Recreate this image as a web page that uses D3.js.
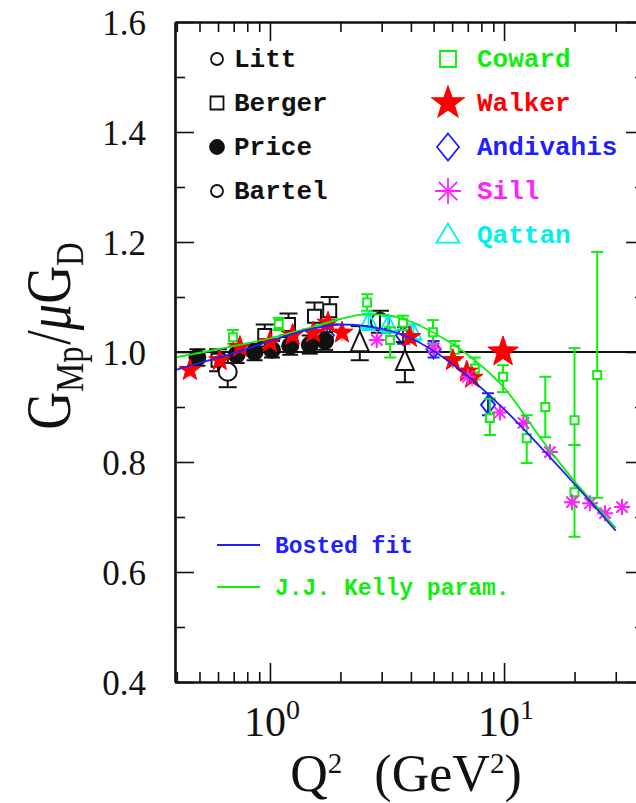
<!DOCTYPE html>
<html><head><meta charset="utf-8">
<script src="https://cdn.jsdelivr.net/npm/d3@7"></script>
<style>body{margin:0;background:#fff;} svg{display:block;}</style>
</head><body>
<svg id="c" width="636" height="803"></svg>
<script>
// ---------- data ----------
const xMajorTicks = [1, 10];
const xMinorTicks = [0.4,0.5,0.6,0.7,0.8,0.9,2,3,4,5,6,7,8,9,20,30,40];
const xTickLabels = [["10","0"],["10","1"]];
const yMajorTicks = [0.4,0.6,0.8,1.0,1.2,1.4,1.6];
const yMinorTicks = [0.5,0.7,0.9,1.1,1.3,1.5];
const yTickLabels = ["0.4","0.6","0.8","1.0","1.2","1.4","1.6"];

// [Q2, ratio, lower end of error bar, upper end of error bar]
const litt = [[2.95,1.055,1.035,1.075]];
const berger = [[0.6,0.985,0.965,1.005],[0.95,1.03,1.01,1.05],[1.2,1.05,1.03,1.07],[1.55,1.065,1.04,1.09],[1.8,1.075,1.05,1.1]];
const price = [[0.49,0.99,0.975,1.005],[0.72,0.995,0.98,1.01],[0.86,1.0,0.985,1.015],[1.02,1.004,0.99,1.02],[1.22,1.011,0.995,1.027],[1.48,1.013,0.997,1.03],[1.72,1.02,1.004,1.036]];
const bartel = [[0.66,0.964,0.936,0.99]];
const kirk = [[2.42,1.016,0.985,1.047],[3.77,0.982,0.945,1.018]];
const coward = [[0.695,1.027,1.015,1.04],[1.09,1.051,1.04,1.062],[2.6,1.09,1.075,1.105],[3.26,1.022,0.99,1.045],[3.7,1.053,1.04,1.066],[4.97,1.036,1.015,1.058],[6.16,1.004,0.985,1.02],[7.5,0.97,0.95,0.99],[8.7,0.88,0.849,0.915],[9.9,0.955,0.927,0.976],[12.5,0.843,0.798,0.885],[15,0.9,0.845,0.955],[20,0.876,0.831,1.007],[20,0.745,0.664,0.831],[25,0.958,0.735,1.182]];
const walker = [[0.455,0.967,0.955,0.98],[0.61,0.985,0.972,0.998],[0.744,1.009,0.997,1.021],[1.0,1.018,1.006,1.03],[1.25,1.031,1.019,1.043],[1.53,1.035,1.023,1.047],[1.77,1.053,1.04,1.066],[2.03,1.035,1.02,1.05],[3.96,1.027,1.012,1.042],[6.05,0.985,0.97,1.0],[6.93,0.964,0.95,0.978],[7.3,0.953,0.938,0.968]];
const walkerHighQ = [[9.9,1.0,1.0,1.0]];
const andivahis = [[1.75,1.03,1.015,1.045],[3.7,1.03,1.015,1.045],[5.0,1.005,0.99,1.02],[8.54,0.904,0.885,0.925]];
const sill = [[2.86,1.022,1.012,1.032],[5.0,1.007,0.997,1.017],[7.0,0.955,0.945,0.965],[9.6,0.89,0.88,0.9],[12.1,0.871,0.861,0.881],[15.7,0.818,0.808,0.828],[19.5,0.727,0.717,0.737],[23.3,0.725,0.715,0.735],[27,0.707,0.697,0.717],[31.9,0.718,0.708,0.728]];
const qattan = [[2.64,1.055,1.04,1.07],[3.2,1.05,1.035,1.065],[4.1,1.035,1.02,1.05]];

// curves [Q2, ratio]
const bostedFit = [[0.393,0.967],[0.5,0.98],[0.7,0.998],[1,1.02],[1.5,1.042],[2,1.05],[3,1.042],[4,1.025],[5,1.002],[7,0.956],[10,0.896],[15,0.818],[20,0.76],[25,0.714],[30,0.675]];
const kellyParam = [[0.393,0.99],[0.6,1.005],[1,1.025],[1.5,1.045],[2,1.06],[2.5,1.068],[3,1.068],[4,1.055],[5,1.035],[6,1.015],[7,0.995],[10,0.935],[15,0.832],[20,0.765],[25,0.718],[30,0.68]];

const legendLeft = ["Litt","Berger","Price","Bartel"];
const legendRight = ["Coward","Walker","Andivahis","Sill","Qattan"];
const curveLegend = ["Bosted fit","J.J. Kelly param."];

// ---------- drawing ----------
const svg = d3.select("#c");
const x = d3.scaleLog().domain([0.393, 40]).range([175, 645]);
const y = d3.scaleLinear().domain([0.4, 1.6]).range([682, 22]);
const X0 = 175, X1 = 645, Y0 = 682, Y1 = 22;

const GREEN = "#10ee10", RED = "#ff0000", BLUE = "#2020ff", MAG = "#ff22ff", CYAN = "#00f0f0", BLK = "#111";

// shape generators (paths centered at 0,0)
function circleP(r){return `M${r},0A${r},${r} 0 1,1 ${-r},0A${r},${r} 0 1,1 ${r},0Z`;}
function squareP(s){const h=s/2;return `M${-h},${-h}H${h}V${h}H${-h}Z`;}
function starP(R){let p="";const r=R*0.40;for(let i=0;i<10;i++){const a=-Math.PI/2+i*Math.PI/5;const rr=i%2?r:R;p+=(i?"L":"M")+(rr*Math.cos(a)).toFixed(2)+","+(rr*Math.sin(a)).toFixed(2);}return p+"Z";}
function diamondP(w,h){return `M0,${-h/2}L${w/2},0L0,${h/2}L${-w/2},0Z`;}
function triP(w,h){return `M0,${-h*0.6}L${w/2},${h*0.4}L${-w/2},${h*0.4}Z`;}
function astP(r){let p="";for(let i=0;i<4;i++){const a=i*Math.PI/4;const c=r*Math.cos(a),s=r*Math.sin(a);p+=`M${(-c).toFixed(2)},${(-s).toFixed(2)}L${c.toFixed(2)},${s.toFixed(2)}`;}return p;}

// horizontal reference line at 1.0
svg.append("line").attr("x1",X0).attr("x2",X1).attr("y1",y(1)).attr("y2",y(1))
  .attr("stroke","#111").attr("stroke-width",2);

function drawSet(data, opt){
  const g = svg.append("g");
  data.forEach(d=>{
    if (d[2]===d[3]) return;
    const cx = x(d[0]);
    g.append("line").attr("x1",cx).attr("x2",cx).attr("y1",y(d[2])).attr("y2",y(d[3]))
      .attr("stroke",opt.color).attr("stroke-width",opt.ew||2);
    [d[2],d[3]].forEach(v=>{
      g.append("line").attr("x1",cx-opt.cap).attr("x2",cx+opt.cap).attr("y1",y(v)).attr("y2",y(v))
        .attr("stroke",opt.color).attr("stroke-width",opt.ew||2);
    });
  });
  g.selectAll("path.m").data(data).join("path").attr("class","m")
    .attr("transform",d=>`translate(${x(d[0])},${y(d[1])})`)
    .attr("d",opt.path)
    .attr("fill",opt.fill||"none")
    .attr("stroke",opt.color)
    .attr("stroke-width",opt.sw||2);
}

drawSet(andivahis,{path:diamondP(14,18),color:BLUE,cap:6,sw:2});
drawSet(berger,{path:squareP(13),color:BLK,cap:9,fill:"#fff",sw:2});
drawSet(price,{path:circleP(8),color:BLK,cap:8,fill:BLK});
drawSet(bartel,{path:circleP(9),color:BLK,cap:9,fill:"#fff"});
drawSet(litt,{path:circleP(9),color:BLK,cap:9,fill:"none"});
drawSet(kirk,{path:triP(18,20),color:BLK,cap:9,fill:"#fff"});
drawSet(qattan,{path:triP(16,16),color:CYAN,cap:7,fill:"none"});
drawSet(coward,{path:squareP(8),color:GREEN,cap:6,fill:"#fff"});
drawSet(walker,{path:starP(11.5),color:RED,cap:0.01,fill:RED,sw:1,ew:1});
drawSet(walkerHighQ,{path:starP(16),color:RED,cap:0,fill:RED,sw:1});
drawSet(sill,{path:astP(8),color:MAG,cap:0.01,sw:2,ew:1});

// curves
const line = d3.line().x(d=>x(d[0])).y(d=>y(d[1])).curve(d3.curveMonotoneX);
svg.append("path").datum(kellyParam).attr("d",line).attr("fill","none").attr("stroke",GREEN).attr("stroke-width",1.8);
svg.append("path").datum(bostedFit).attr("d",line).attr("fill","none").attr("stroke",BLUE).attr("stroke-width",1.8);

// axes
function ax(gen, tr, vals, size){
  const a = svg.append("g").attr("transform",tr)
    .call(gen.tickValues(vals).tickSizeInner(size).tickSizeOuter(0).tickFormat(""));
  a.select(".domain").attr("stroke","#111").attr("stroke-width",2.2);
  a.selectAll(".tick line").attr("stroke","#111").attr("stroke-width",1.6);
}
ax(d3.axisBottom(x),`translate(0,${Y0})`,xMajorTicks,-19);
ax(d3.axisBottom(x),`translate(0,${Y0})`,xMinorTicks,-10);
ax(d3.axisTop(x),`translate(0,${Y1})`,xMajorTicks,-19);
ax(d3.axisTop(x),`translate(0,${Y1})`,xMinorTicks,-10);
ax(d3.axisLeft(y),`translate(${X0},0)`,yMajorTicks,-19);
ax(d3.axisLeft(y),`translate(${X0},0)`,yMinorTicks,-10);
ax(d3.axisRight(y),`translate(${X1},0)`,yMajorTicks,-19);
ax(d3.axisRight(y),`translate(${X1},0)`,yMinorTicks,-10);

// tick labels
const serif = "'Liberation Serif', 'Times New Roman', serif";
yMajorTicks.forEach((v,i)=>{
  svg.append("text").attr("x",146).attr("y",y(v)+12.5).attr("text-anchor","end")
    .attr("font-family",serif).attr("font-size",35).attr("fill","#111").text(yTickLabels[i]);
});
xMajorTicks.forEach((v,i)=>{
  const t = svg.append("text").attr("x",x(v)+2).attr("y",736).attr("text-anchor","middle")
    .attr("font-family",serif).attr("font-size",42).attr("fill","#111");
  t.append("tspan").text(xTickLabels[i][0]);
  t.append("tspan").attr("dy",-17).attr("font-size",28).text(xTickLabels[i][1]);
});

// axis titles
const xt = svg.append("text").attr("x",406).attr("y",791).attr("text-anchor","middle")
  .attr("font-family",serif).attr("font-size",52).attr("fill","#111");
xt.append("tspan").text("Q");
xt.append("tspan").attr("dy",-18).attr("font-size",29).text("2");
xt.append("tspan").attr("dy",18).attr("dx",32).text("(GeV");
xt.append("tspan").attr("dy",-18).attr("font-size",29).text("2");
xt.append("tspan").attr("dy",18).text(")");

const yt = svg.append("text").attr("transform","translate(70,336) rotate(-90) scale(0.82,1)")
  .attr("text-anchor","middle").attr("font-family",serif).attr("font-size",64).attr("fill","#111");
yt.append("tspan").text("G");
yt.append("tspan").attr("dy",13).attr("font-size",40).text("Mp");
yt.append("tspan").attr("dy",-13).attr("dx",2).text("/");
yt.append("tspan").attr("font-style","italic").text("μ");
yt.append("tspan").text("G");
yt.append("tspan").attr("dy",13).attr("font-size",40).text("D");

// legends
const mono = "'Liberation Mono', 'DejaVu Sans Mono', monospace";
const leftShapes = [
  {path:circleP(6),fill:"none",color:BLK},
  {path:squareP(13),fill:"none",color:BLK},
  {path:circleP(7),fill:BLK,color:BLK},
  {path:circleP(6),fill:"none",color:BLK}];
const rightShapes = [
  {path:squareP(16),fill:"none",color:GREEN,tc:GREEN},
  {path:starP(16),fill:RED,color:RED,tc:RED},
  {path:diamondP(22,27),fill:"none",color:BLUE,tc:BLUE},
  {path:astP(13),fill:"none",color:MAG,tc:MAG},
  {path:triP(23,19),fill:"none",color:CYAN,tc:CYAN}];
legendLeft.forEach((name,i)=>{
  const yy = 67 + i*44;
  svg.append("path").attr("transform",`translate(217,${yy-8})`).attr("d",leftShapes[i].path)
    .attr("fill",leftShapes[i].fill).attr("stroke",leftShapes[i].color).attr("stroke-width",1.8);
  svg.append("text").attr("x",234).attr("y",yy).attr("font-family",mono).attr("font-weight","bold")
    .attr("font-size",26).attr("fill","#111").text(name);
});
legendRight.forEach((name,i)=>{
  const yy = 67 + i*44;
  const s = rightShapes[i];
  svg.append("path").attr("transform",`translate(448,${yy-8})`).attr("d",s.path)
    .attr("fill",s.fill).attr("stroke",s.color).attr("stroke-width",1.8);
  svg.append("text").attr("x",477).attr("y",yy).attr("font-family",mono).attr("font-weight","bold")
    .attr("font-size",26).attr("fill",s.tc).text(name);
});
const curveColors = [BLUE, GREEN];
curveLegend.forEach((name,i)=>{
  const yy = 545 + i*42;
  svg.append("line").attr("x1",217).attr("x2",260).attr("y1",yy).attr("y2",yy)
    .attr("stroke",curveColors[i]).attr("stroke-width",1.8);
  svg.append("text").attr("x",275).attr("y",yy+8).attr("font-family",mono).attr("font-weight","bold")
    .attr("font-size",23).attr("fill",curveColors[i]).text(name);
});
</script>
</body></html>
